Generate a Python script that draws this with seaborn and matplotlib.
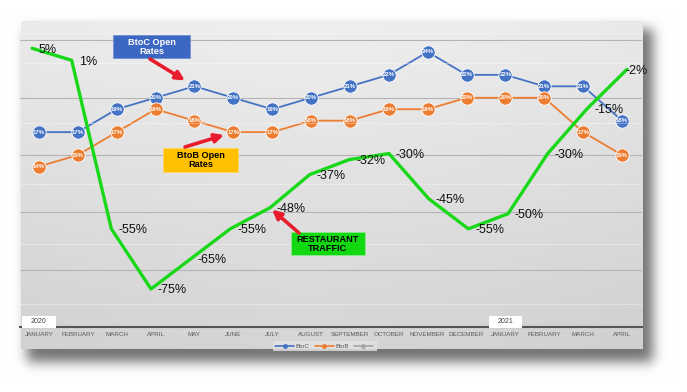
import numpy as np
import pandas as pd
import seaborn as sns
import matplotlib.pyplot as plt
from matplotlib.patches import Rectangle
from matplotlib.lines import Line2D
import matplotlib.transforms as mtransforms

# Datos
months = ["JANUARY", "FEBRUARY", "MARCH", "APRIL", "MAY", "JUNE", "JULY", "AUGUST",
          "SEPTEMBER", "OCTOBER", "NOVEMBER", "DECEMBER", "JANUARY", "FEBRUARY", "MARCH", "APRIL"]
years = {0: "2020", 12: "2021"}
btoc = [17, 17, 19, 20, 21, 20, 19, 20, 21, 22, 24, 22, 22, 21, 21, 18]
btob = [14, 15, 17, 19, 18, 17, 17, 18, 18, 19, 19, 20, 20, 20, 17, 15]
traffic = [5, 1, -55, -75, -65, -55, -48, -37, -32, -30, -45, -55, -50, -30, -15, -2]

df = pd.DataFrame({"idx": range(len(months)), "BtoC": btoc, "BtoB": btob, "Traffic": traffic})

blue, orange, green, red = "#4472c4", "#ed7d31", "#19d819", "#e81c2c"

sns.set_theme(style="white")
plt.rcParams["font.family"] = ["Liberation Sans", "DejaVu Sans"]

W, H = 687, 392
fig = plt.figure(figsize=(W / 100, H / 100), dpi=100)

# fondo: pagina blanca, sombra y tarjeta gris con degradado
yy, xx = np.mgrid[0:H, 0:W]
L, T, R, B = 21, 21, 643, 349
sh = ((xx >= L + 6) & (xx <= R + 9) & (yy >= T + 8) & (yy <= B + 12)).astype(float)
k = np.exp(-0.5 * (np.arange(-20, 21) / 6.0) ** 2)
k /= k.sum()
sh = np.apply_along_axis(lambda r: np.convolve(r, k, mode="same"), 1, sh)
sh = np.apply_along_axis(lambda c: np.convolve(c, k, mode="same"), 0, sh)
img = 1 - 0.55 * sh
inside = (xx >= L) & (xx < R) & (yy >= T) & (yy < B)
fy = (yy - T) / (B - T)
fx = (xx - L) / (R - L)
grad = 0.935 - 0.10 * fy - 0.05 * np.abs(fx - 0.45) ** 1.5
img = np.where(inside, grad, img)

bg = fig.add_axes([0, 0, 1, 1], zorder=-1)
bg.imshow(np.dstack([img] * 3), extent=(0, W, H, 0), aspect="auto", interpolation="bilinear")
bg.set_xlim(0, W)
bg.set_ylim(H, 0)
bg.axis("off")

# ejes principales (open rates) y secundarios (trafico)
rect = [19.5 / W, 1 - 326.9 / H, 622 / W, 305.9 / H]
ax = fig.add_axes(rect)
ax2 = fig.add_axes(rect)
for a in (ax, ax2):
    a.patch.set_alpha(0)
    for s in a.spines.values():
        s.set_visible(False)

sns.lineplot(data=df, x="idx", y="BtoC", ax=ax, color=blue, linewidth=1.3, marker="o",
             markersize=9.6, markeredgecolor="white", markeredgewidth=0.6, legend=False)
sns.lineplot(data=df, x="idx", y="BtoB", ax=ax, color=orange, linewidth=1.3, marker="o",
             markersize=9.6, markeredgecolor="white", markeredgewidth=0.6, legend=False)
sns.lineplot(data=df, x="idx", y="Traffic", ax=ax2, color=green, linewidth=2.4, legend=False)

ax.set_xlim(-0.5, 15.5)
ax.set_ylim(0, 26.7)
ax2.set_xlim(-0.315, 15.365)
ax2.set_ylim(-87.6, 14.06)

ax.set_yticks([5, 10, 15, 20, 25])
ax.grid(axis="y", color="#b4b4b4", linewidth=0.8)
ax.grid(axis="x", visible=False)
ax.set_xticks(range(len(months)))
ax.set_xticklabels(months)
ax.tick_params(axis="x", length=0, pad=4, labelsize=4.5, labelcolor="#595959")
ax.tick_params(axis="y", length=0, labelleft=False)
ax.set_xlabel("")
ax.set_ylabel("")
ax.spines["bottom"].set_visible(True)
ax.spines["bottom"].set_color("#555555")
ax.spines["bottom"].set_linewidth(1.5)

ax2.set_yticks([10, 0, -20, -40, -60, -80])
ax2.grid(axis="y", color="white", alpha=0.35, linewidth=0.8)
ax2.grid(axis="x", visible=False)
ax2.tick_params(left=False, bottom=False, labelleft=False, labelbottom=False)
ax2.set_xlabel("")
ax2.set_ylabel("")

# etiquetas de datos
for i, (c, b) in enumerate(zip(btoc, btob)):
    ax.text(i, c, f"{c}%", ha="center", va="center", fontsize=4.3, color="white",
            fontweight="bold", zorder=4)
    ax.text(i, b, f"{b}%", ha="center", va="center", fontsize=4.3, color="white",
            fontweight="bold", zorder=4)
for i, v in enumerate(traffic):
    dx = -1.4 if i == len(traffic) - 1 else 5
    ax2.annotate(f"{v}%", (i, v), xytext=(dx, -1), textcoords="offset points",
                 ha="left", va="center", fontsize=9, color="#111111")

# cajas de anio sobre el eje
blend = mtransforms.blended_transform_factory(ax.transData, ax.transAxes)
for i, y in years.items():
    ax.add_patch(Rectangle((i - 0.43, -0.004), 0.86, 12 / 305.9, transform=blend,
                           facecolor="white", edgecolor="none", clip_on=False, zorder=5))
    ax.text(i, 5.8 / 305.9, y, transform=blend, ha="center", va="center",
            fontsize=5, color="#404040", zorder=6)

# leyenda
handles = [Line2D([], [], color=blue, marker="o", markersize=2.5, linewidth=1.2),
           Line2D([], [], color=orange, marker="o", markersize=2.5, linewidth=1.2),
           Line2D([], [], color="#a5a5a5", marker="o", markersize=2.5, linewidth=1.2)]
leg = fig.legend(handles, ["BtoC", "BtoB", ""], loc="center",
                 bbox_to_anchor=(325 / W, 1 - 346 / H), ncol=3, fontsize=4.5,
                 frameon=True, fancybox=False, handlelength=3, handletextpad=0.3,
                 columnspacing=0.8, borderpad=0.35)
leg.get_frame().set_facecolor("#e3e3e3")
leg.get_frame().set_edgecolor("none")
for t in leg.get_texts():
    t.set_color("#595959")

# anotaciones con flechas
ov = fig.add_axes([0, 0, 1, 1], zorder=5)
ov.patch.set_alpha(0)
ov.set_xlim(0, W)
ov.set_ylim(H, 0)
ov.axis("off")

boxes = [
    (113, 35, 77, 23, "#3c67c2", "#7090d8", "white", "BtoC Open\nRates"),
    (163, 148, 75, 24, "#ffc000", "#ffd966", "black", "BtoB Open\nRates"),
    (291, 232, 74, 23, "#12d812", "#8fe88f", "black", "RESTAURANT\nTRAFFIC"),
]
for x0, y0, w, h, fc, ec, tc, txt in boxes:
    ov.add_patch(Rectangle((x0, y0), w, h, facecolor=fc, edgecolor=ec, linewidth=0.6))
    ov.text(x0 + w / 2, y0 + h / 2, txt, ha="center", va="center", fontsize=6.6,
            fontweight="bold", color=tc, linespacing=1.0)

arrow = dict(arrowstyle="-|>", color=red, lw=2.6, mutation_scale=13, shrinkA=0)
ov.annotate("", xy=(4, 21), xycoords=ax.transData, xytext=(150, 59), textcoords="data",
            arrowprops=dict(arrow, shrinkB=8))
ov.annotate("", xy=(5, 17), xycoords=ax.transData, xytext=(185, 147), textcoords="data",
            arrowprops=dict(arrow, shrinkB=7))
ov.annotate("", xy=(6, -48), xycoords=ax2.transData, xytext=(299, 233), textcoords="data",
            arrowprops=dict(arrow, shrinkB=2))

fig.savefig("out.png", dpi=100)
